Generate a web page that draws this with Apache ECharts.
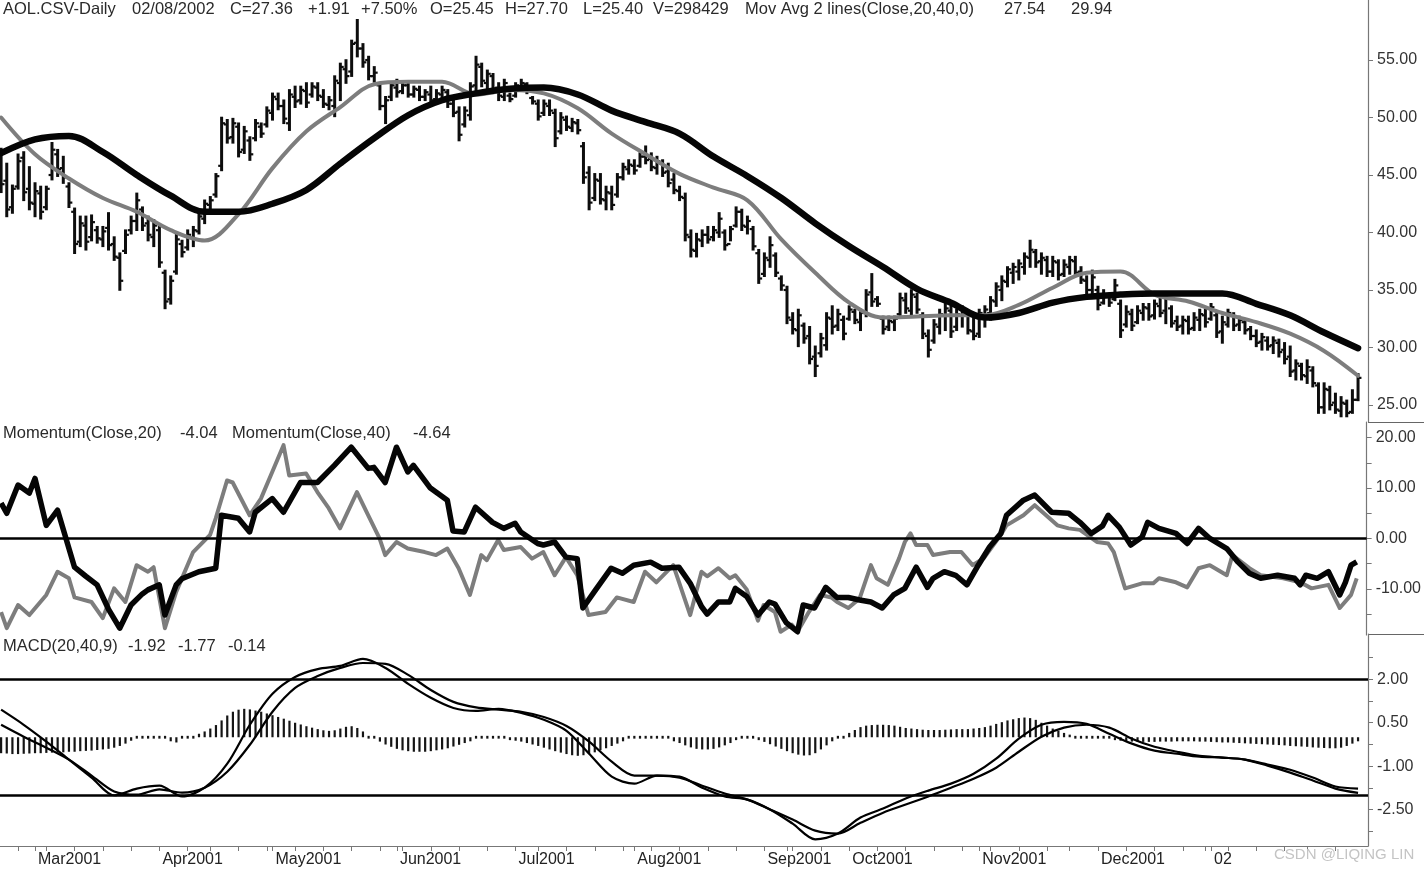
<!DOCTYPE html>
<html><head><meta charset="utf-8">
<script src="https://cdn.jsdelivr.net/npm/echarts@6/dist/echarts.min.js"></script>
<style>html,body{margin:0;padding:0;background:#fff}#c{width:1424px;height:872px}</style>
</head><body><div id="c"></div>
<script>
// ---- daily OHLC, 21 Feb 2001 .. 08 Feb 2002 (241 trading days) ----
const opens = [
46.8,44.5,42.2,44.0,46.5,43.8,42.5,43.4,42.2,45.0,
46.8,45.6,44.0,41.8,39.2,40.6,39.6,40.2,39.4,40.4,
39.0,37.8,38.4,40.2,41.0,42.0,40.8,39.6,40.2,36.5,
34.2,36.6,39.0,38.7,39.6,40.1,41.2,42.4,43.3,45.8,
49.4,48.3,49.2,47.2,48.0,48.2,49.2,49.4,50.4,51.6,
51.0,49.5,51.8,51.5,52.3,52.0,52.6,51.8,51.1,51.0,
53.0,54.2,54.0,56.5,56.0,55.0,53.6,52.8,51.0,51.8,
52.6,52.3,52.8,52.0,52.4,51.8,52.0,51.6,52.0,52.2,
51.2,50.5,49.4,50.2,52.8,54.4,53.0,53.6,52.6,51.8,
51.9,51.9,52.6,52.9,51.7,51.2,50.4,51.0,50.4,48.8,
49.8,49.1,49.5,47.5,45.2,43.0,44.5,42.8,43.4,43.3,
44.8,45.5,45.8,45.8,46.6,46.4,45.6,46.0,45.3,44.6,
43.6,43.0,39.6,38.4,39.3,39.8,39.6,40.0,40.0,39.0,
40.6,41.8,40.5,40.3,38.2,36.4,37.6,38.0,36.0,35.0,
32.4,31.5,31.9,31.0,29.2,29.5,30.2,32.5,31.9,32.4,
32.5,33.1,32.2,33.0,34.8,34.2,32.5,31.8,32.2,32.9,
34.1,33.2,34.4,32.8,31.0,30.6,31.8,32.8,33.2,31.8,
32.8,32.8,31.4,31.2,32.8,33.0,34.0,35.0,35.7,36.5,
36.6,37.0,37.8,38.3,37.5,37.6,36.6,37.4,36.4,37.0,
37.5,36.6,35.8,35.0,35.0,33.9,34.5,34.2,33.8,32.0,
32.9,32.2,33.0,33.4,32.8,33.6,33.2,33.4,32.3,31.9,
32.3,31.7,32.4,32.8,32.5,32.8,31.4,32.0,32.8,32.0,
32.2,31.6,31.0,30.5,30.6,30.2,30.4,29.8,29.2,28.0,
28.4,27.5,28.0,26.7,24.8,26.3,25.2,24.5,25.1,24.4,25.45];
const highs = [
47.3,46.0,44.1,46.8,47.0,45.7,44.3,44.0,44.0,47.8,
47.2,46.6,44.3,42.1,41.4,41.4,41.5,40.5,40.5,41.7,
39.6,38.2,40.2,41.4,43.4,42.2,41.4,41.1,40.5,36.7,
36.2,39.9,39.3,40.2,40.5,41.7,42.8,43.1,45.1,50.0,
49.8,49.9,49.5,49.2,48.3,49.8,49.5,50.9,52.1,52.1,
51.5,52.4,52.7,52.7,53.0,53.0,53.0,52.4,51.8,53.6,
54.7,55.0,56.7,58.5,56.4,55.3,54.4,53.0,51.8,53.0,
53.3,53.0,53.0,52.7,52.7,52.4,52.7,52.4,52.7,52.4,
51.5,50.9,50.9,53.0,55.3,54.7,54.1,53.8,53.0,53.3,
52.1,53.0,53.3,53.0,51.8,51.5,51.5,51.5,50.7,50.4,
50.1,49.9,49.8,47.8,45.7,45.1,45.1,44.0,44.0,45.1,
46.0,46.3,46.3,46.9,47.5,46.9,46.6,46.3,46.0,45.1,
44.0,43.4,40.2,39.9,40.2,40.5,40.5,41.7,40.2,40.5,
42.2,42.0,41.4,40.5,38.5,38.2,39.6,38.2,36.2,35.3,
33.0,33.3,32.1,31.8,30.1,31.2,33.0,33.6,33.3,32.7,
33.6,33.3,33.3,35.0,36.4,34.4,32.7,32.7,32.7,34.7,
34.7,35.0,34.7,33.0,31.5,32.4,33.3,33.8,33.6,33.3,
33.6,33.0,32.7,33.3,33.6,34.4,35.6,36.2,37.0,37.3,
37.6,38.2,39.3,38.5,38.2,37.9,37.9,37.6,37.6,37.9,
37.9,37.0,36.2,36.7,35.3,35.0,34.7,35.9,34.1,33.6,
33.3,33.6,33.8,33.8,34.1,34.4,34.7,33.6,32.7,32.7,
32.7,33.0,33.3,33.3,33.8,33.0,32.7,33.3,33.0,32.7,
32.4,31.8,31.5,31.2,30.9,30.9,30.7,30.4,30.1,28.9,
28.6,28.9,28.3,26.9,26.9,26.6,26.0,25.7,25.4,26.3,27.70];
const lows = [
43.5,41.4,41.7,43.8,42.8,42.0,41.4,41.2,42.0,44.6,
44.9,44.3,42.2,38.2,38.8,38.5,39.3,39.1,38.8,38.5,
37.6,35.0,38.2,39.9,40.2,40.2,39.3,38.8,37.0,33.4,
33.8,36.4,37.9,38.5,38.8,39.9,40.8,41.7,43.1,45.4,
47.8,47.8,46.6,46.9,46.3,48.0,48.3,49.2,49.8,50.7,
49.5,48.9,50.9,51.2,50.9,51.8,51.5,50.9,50.7,50.1,
51.5,53.0,53.6,55.3,54.4,53.3,53.1,50.7,49.5,51.5,
51.8,52.1,51.8,51.8,51.5,51.5,51.2,51.2,51.5,50.9,
50.1,48.0,49.2,49.8,52.1,52.7,52.4,52.1,51.5,51.5,
51.4,51.8,52.4,52.1,51.2,49.8,50.2,50.2,47.5,48.6,
48.9,48.8,48.6,44.3,42.0,42.8,42.5,42.0,42.0,43.1,
44.6,45.1,45.1,45.7,46.0,45.4,45.1,44.9,44.0,43.4,
42.8,39.3,37.9,37.9,38.8,39.1,39.3,39.6,38.5,39.3,
40.5,40.2,39.9,38.5,35.6,36.2,37.0,36.2,35.0,32.1,
31.2,30.1,30.4,28.6,27.5,29.2,29.8,31.2,31.5,30.7,
32.4,32.1,31.5,32.7,33.6,33.6,31.2,31.5,31.5,32.7,
33.0,32.7,33.0,30.8,29.2,30.4,31.2,31.5,30.9,31.5,
31.8,31.2,30.7,30.9,31.8,32.4,33.6,34.1,35.3,35.6,
35.9,36.4,37.0,37.0,36.4,36.2,36.2,35.9,36.2,36.4,
36.2,35.6,34.7,34.4,33.3,33.8,33.6,34.1,30.9,31.8,
31.5,32.1,32.4,32.4,32.5,32.7,32.1,31.8,31.5,31.2,
31.2,31.5,31.5,31.8,32.4,30.9,30.4,31.8,31.5,31.5,
31.2,30.7,30.1,29.8,29.8,29.5,29.2,28.6,27.5,27.2,
27.2,26.9,26.6,24.3,24.3,24.6,24.3,24.0,24.0,24.3,25.40];
const closes = [
44.2,42.0,43.8,46.2,43.5,42.6,43.6,41.8,43.8,47.2,
45.5,44.8,42.6,39.0,40.8,39.2,40.9,39.5,40.1,38.9,
37.9,35.8,39.8,41.0,42.8,40.6,39.8,40.6,37.4,34.0,
35.8,39.4,38.3,39.8,40.2,41.4,42.5,42.8,44.9,49.5,
48.2,49.5,47.0,48.8,46.8,49.5,48.6,50.6,51.8,51.0,
49.9,52.0,51.4,52.4,51.3,52.7,51.9,51.2,51.5,53.2,
54.4,53.6,56.4,56.0,54.8,53.6,53.9,51.0,51.5,52.8,
52.2,52.8,52.0,52.5,51.8,52.2,51.5,52.1,52.4,51.2,
50.4,48.5,50.6,52.7,54.6,53.2,53.8,52.5,51.9,53.0,
51.6,52.8,53.0,52.3,51.4,50.1,51.2,50.6,48.2,50.0,
49.2,49.6,48.9,44.8,42.6,44.6,42.9,43.5,42.4,44.8,
45.7,45.9,45.4,46.6,46.3,45.7,46.2,45.2,44.3,43.7,
43.1,39.8,38.5,39.4,39.8,39.4,40.2,41.2,38.9,40.3,
41.8,40.6,41.0,38.8,36.0,37.8,38.9,36.5,35.4,32.6,
31.6,32.8,30.8,29.0,28.4,30.8,32.6,31.8,32.9,31.2,
33.3,32.4,33.0,34.6,34.0,33.8,31.6,32.3,32.5,34.3,
33.4,34.6,33.3,31.2,29.8,32.0,32.9,33.4,31.4,32.9,
33.2,31.5,31.0,33.0,33.3,34.1,35.3,35.8,36.8,37.0,
37.3,37.9,38.5,37.4,37.8,36.6,37.5,36.3,37.2,37.6,
36.5,35.9,35.0,36.1,33.7,34.6,33.9,35.4,31.5,33.1,
31.9,33.2,33.5,32.7,33.8,33.0,34.3,32.1,31.8,32.4,
31.6,32.6,32.9,32.2,33.5,31.3,32.2,33.0,31.9,32.4,
31.5,31.0,30.4,30.9,30.1,30.6,29.6,29.0,27.9,28.6,
27.6,28.3,26.9,24.8,26.4,25.0,24.6,25.2,24.3,25.45,27.36];

// ---- moving averages read every 6 trading days ----
const maStep = 6;
const ma20 = [50.0,46.8,44.7,43.0,41.8,40.2,39.3,41.6,45.6,48.8,50.9,52.9,53.1,53.1,52.0,52.4,52.1,50.8,48.6,46.8,45.1,43.9,42.8,39.4,36.5,33.9,32.6,32.7,32.8,32.8,33.7,35.2,36.5,36.6,34.6,34.0,33.0,32.2,31.2,29.7,27.54];
const ma40 = [46.9,48.1,48.4,47.0,45.0,43.2,41.8,41.8,42.5,43.7,46.0,48.2,50.2,51.5,52.1,52.5,52.6,52.0,50.6,49.6,48.6,46.6,44.9,43.0,40.8,38.8,37.0,35.1,33.9,32.6,33.0,33.9,34.4,34.6,34.7,34.7,34.7,33.8,32.8,31.3,29.94];

// ---- momentum: [trading-day index, value] at the turning points ----
const mom40Pts = [[0,7.0],[1,5.0],[3,10.6],[5,9.0],[6,11.9],[8,2.6],[10,5.6],[13,-5.7],[15,-7.5],[17,-9.2],[19,-14.0],[21,-17.8],[23,-13.2],[25,-11.0],[26,-10.2],[28,-9.2],[29,-15.2],[31,-9.2],[32,-8.0],[35,-6.6],[38,-5.9],[39,4.6],[42,4.0],[44,1.3],[45,5.2],[48,7.9],[50,5.2],[53,11.1],[56,11.1],[59,14.5],[62,18.1],[65,13.9],[66,14.1],[68,11.1],[70,18.1],[72,13.2],[73,14.5],[76,10.0],[79,7.6],[80,1.5],[82,1.3],[84,6.2],[87,3.2],[89,2.0],[91,3.0],[92,1.3],[95,-1.0],[96,-1.3],[98,-0.7],[100,-3.7],[102,-4.0],[103,-13.8],[105,-10.6],[108,-5.9],[110,-6.9],[112,-5.3],[115,-4.7],[117,-5.9],[120,-5.7],[122,-8.9],[124,-13.5],[125,-15.0],[127,-12.6],[129,-12.6],[130,-9.9],[132,-11.5],[134,-15.2],[136,-12.6],[137,-13.0],[139,-16.7],[141,-18.5],[142,-13.2],[144,-13.8],[146,-9.7],[148,-11.7],[150,-11.7],[152,-12.2],[154,-12.6],[156,-13.8],[158,-11.2],[160,-9.9],[162,-5.7],[164,-9.7],[165,-7.9],[167,-6.6],[169,-7.3],[171,-9.2],[173,-5.3],[175,-1.7],[177,1.0],[178,4.6],[181,7.6],[183,8.6],[186,5.2],[189,5.0],[191,3.2],[193,1.0],[195,2.5],[196,4.6],[198,2.2],[200,-1.3],[202,0.3],[203,3.2],[205,2.0],[208,1.0],[210,-1.0],[212,2.0],[214,0.0],[217,-2.0],[219,-4.7],[221,-6.9],[223,-7.9],[226,-7.3],[229,-7.9],[230,-9.2],[231,-7.3],[233,-7.9],[235,-6.6],[237,-11.2],[238,-8.7],[239,-5.3],[240,-4.64]];
const mom20Pts = [[0,-14.6],[1,-17.8],[3,-13.2],[5,-15.2],[8,-11.2],[10,-6.6],[12,-7.9],[13,-11.7],[16,-12.6],[18,-15.8],[20,-9.9],[22,-12.6],[24,-5.3],[26,-6.6],[27,-5.7],[29,-17.8],[31,-10.6],[33,-5.3],[34,-2.7],[37,0.7],[38,4.0],[40,11.5],[41,11.1],[44,4.6],[46,7.9],[48,13.2],[50,18.5],[51,12.5],[54,12.9],[56,9.2],[58,6.0],[60,2.0],[63,9.2],[65,4.6],[67,0.0],[68,-3.3],[70,-0.7],[72,-2.0],[75,-2.7],[77,-3.3],[79,-2.0],[81,-5.9],[83,-11.2],[85,-3.3],[86,-4.3],[88,-0.3],[89,-2.3],[92,-1.7],[94,-4.0],[96,-2.7],[98,-7.3],[100,-3.7],[102,-7.3],[104,-15.2],[107,-14.6],[109,-11.7],[112,-12.6],[114,-6.6],[116,-8.7],[119,-5.3],[122,-15.2],[124,-6.6],[125,-7.5],[127,-5.9],[129,-7.9],[130,-7.3],[132,-10.1],[134,-16.3],[135,-13.2],[137,-14.6],[138,-18.5],[140,-17.1],[141,-18.5],[143,-14.6],[145,-11.2],[147,-11.7],[148,-12.6],[150,-13.8],[152,-11.9],[154,-5.3],[155,-7.9],[157,-9.2],[159,-3.9],[160,-0.7],[161,1.0],[162,-1.3],[164,-1.3],[165,-3.3],[168,-2.7],[170,-2.7],[172,-5.3],[174,-3.9],[177,0.7],[178,2.6],[181,4.6],[183,6.6],[185,4.6],[187,2.6],[189,2.0],[191,1.7],[194,-0.7],[196,-1.0],[197,-2.7],[199,-9.9],[202,-8.9],[204,-8.9],[205,-7.9],[208,-8.7],[210,-9.7],[212,-5.9],[214,-5.3],[217,-7.3],[218,-3.3],[221,-5.9],[223,-7.3],[227,-7.9],[230,-8.7],[232,-9.9],[235,-9.2],[237,-13.8],[239,-11.2],[240,-7.9]];

// ---- MACD(20,40,9): lines read every 4 trading days, histogram daily ----
const macdStep = 4;
const macdLine = [0.95,0.43,-0.15,-0.77,-1.39,-2.0,-1.77,-1.67,-2.04,-1.74,-0.91,0.43,1.5,2.08,2.35,2.46,2.7,2.39,1.84,1.36,1.01,0.91,0.98,0.84,0.6,0.22,-0.57,-1.36,-1.6,-1.32,-1.36,-1.74,-2.04,-2.15,-2.49,-2.98,-3.52,-3.32,-2.77,-2.46,-2.11,-1.84,-1.6,-1.26,-0.74,-0.05,0.43,0.53,0.46,0.12,-0.22,-0.46,-0.57,-0.67,-0.7,-0.77,-0.98,-1.22,-1.49,-1.77,-1.92];
const signalLine = [0.43,0.02,-0.36,-0.77,-1.32,-1.87,-1.98,-1.8,-1.91,-1.74,-1.19,-0.26,0.88,1.7,2.11,2.39,2.56,2.53,2.15,1.63,1.22,1.03,0.95,0.88,0.7,0.39,-0.15,-0.84,-1.32,-1.32,-1.39,-1.67,-1.94,-2.15,-2.49,-2.84,-3.22,-3.32,-2.95,-2.6,-2.32,-2.04,-1.74,-1.43,-1.05,-0.5,0.02,0.33,0.43,0.33,-0.05,-0.33,-0.5,-0.64,-0.7,-0.77,-0.94,-1.12,-1.39,-1.7,-1.77];
const macdHist = [
-0.55,-0.56,-0.58,-0.58,-0.57,-0.56,-0.55,-0.55,-0.54,-0.53,
-0.52,-0.52,-0.5,-0.5,-0.48,-0.47,-0.46,-0.44,-0.42,-0.4,
-0.36,-0.3,-0.22,-0.12,-0.05,0.02,0.04,0.04,0.03,-0.05,
-0.14,-0.18,-0.08,0.02,0.06,0.12,0.2,0.3,0.42,0.58,
0.75,0.88,0.95,0.98,0.96,0.92,0.88,0.82,0.76,0.7,
0.64,0.57,0.5,0.44,0.38,0.33,0.28,0.24,0.22,0.24,
0.3,0.36,0.38,0.32,0.2,0.08,-0.04,-0.15,-0.25,-0.33,
-0.4,-0.45,-0.48,-0.5,-0.5,-0.5,-0.48,-0.45,-0.42,-0.38,
-0.32,-0.26,-0.2,-0.14,-0.08,-0.05,-0.04,-0.05,-0.07,-0.08,
-0.1,-0.12,-0.15,-0.2,-0.25,-0.3,-0.36,-0.42,-0.48,-0.53,
-0.58,-0.62,-0.64,-0.62,-0.58,-0.52,-0.45,-0.38,-0.3,-0.22,
-0.14,-0.07,-0.02,0.02,0.04,0.04,0.03,0.0,-0.06,-0.14,
-0.2,-0.28,-0.35,-0.4,-0.42,-0.42,-0.4,-0.35,-0.28,-0.2,
-0.1,-0.04,-0.02,-0.05,-0.1,-0.16,-0.24,-0.32,-0.4,-0.48,
-0.55,-0.6,-0.63,-0.62,-0.55,-0.42,-0.28,-0.14,-0.03,0.05,
0.15,0.25,0.35,0.4,0.42,0.43,0.43,0.42,0.4,0.36,
0.32,0.3,0.28,0.26,0.25,0.25,0.25,0.26,0.27,0.28,
0.28,0.28,0.3,0.32,0.35,0.4,0.46,0.52,0.58,0.62,
0.66,0.68,0.66,0.6,0.5,0.4,0.3,0.22,0.15,0.09,
0.05,0.02,0.0,-0.02,-0.04,-0.06,-0.08,-0.1,-0.12,-0.13,
-0.15,-0.15,-0.16,-0.16,-0.16,-0.15,-0.15,-0.15,-0.14,-0.14,
-0.14,-0.14,-0.15,-0.15,-0.16,-0.17,-0.18,-0.18,-0.19,-0.2,
-0.21,-0.22,-0.23,-0.24,-0.25,-0.26,-0.27,-0.28,-0.3,-0.31,
-0.32,-0.33,-0.35,-0.36,-0.37,-0.38,-0.38,-0.36,-0.3,-0.22,-0.14];

// ---- axis ticks / labels ----
const monthStarts = [6,28,48,70,91,112,135,150,173,194,214];
const monthLabels = ['Mar2001','Apr2001','May2001','Jun2001','Jul2001','Aug2001','Sep2001','Oct2001','Nov2001','Dec2001','02'];
const weekStarts = [3,8,13,18,23,28,33,37,42,47,52,57,62,67,71,76,81,86,91,95,100,105,110,115,120,125,130,135,139,140,145,150,155,160,165,170,175,180,185,189,194,199,204,209,213,217,222,227,231,236];
const priceLabels = [25,30,35,40,45,50,55];
const momLabels = [-10,0,10,20];
const momTicks = [-15,-10,-5,0,5,10,15,20];
const macdLabels = [2,0.5,-1,-2.5];
const macdTicks = [2.75,2,1.25,0.5,-0.25,-1,-1.75,-2.5,-3.25];

const headerTop = [['AOL.CSV-Daily',3],['02/08/2002',132],['C=27.36',230],['+1.91',308],['+7.50%',361],['O=25.45',430],['H=27.70',505],['L=25.40',583],['V=298429',653],['Mov Avg 2 lines(Close,20,40,0)',745],['27.54',1004],['29.94',1071]];
const headerMom = [['Momentum(Close,20)',3],['-4.04',180],['Momentum(Close,40)',232],['-4.64',413]];
const headerMacd = [['MACD(20,40,9)',3],['-1.92',128],['-1.77',178],['-0.14',228]];

// ---------------------------------------------------------------
const FONT = '"Liberation Sans", Arial, sans-serif';
const ohlcData = opens.map((o, i) => [i, o, highs[i], lows[i], closes[i]]);
const histData = macdHist.map((v, i) => [i, v]);
const ma20Data = ma20.map((v, k) => [k * maStep, v]);
const ma40Data = ma40.map((v, k) => [k * maStep, v]);
const macdData = macdLine.map((v, k) => [k * macdStep, v]);
const sigData = signalLine.map((v, k) => [k * macdStep, v]);
const tickVals = Array.from(new Set(weekStarts.concat(monthStarts))).sort((a, b) => a - b);

function renderOHLC(params, api) {
  const i = api.value(0);
  const pO = api.coord([i, api.value(1)]);
  const pH = api.coord([i, api.value(2)]);
  const pL = api.coord([i, api.value(3)]);
  const pC = api.coord([i, api.value(4)]);
  const x = pH[0];
  return { type: 'group', children: [
    { type: 'line', shape: { x1: x, y1: pH[1] - 0.8, x2: x, y2: pL[1] + 0.8 }, style: { stroke: '#0d0d0d', lineWidth: 3 } },
    { type: 'line', shape: { x1: x - 3.4, y1: pO[1], x2: x, y2: pO[1] }, style: { stroke: '#0d0d0d', lineWidth: 2.2 } },
    { type: 'line', shape: { x1: x, y1: pC[1], x2: x + 3.4, y2: pC[1] }, style: { stroke: '#0d0d0d', lineWidth: 2.2 } }
  ]};
}
function renderHist(params, api) {
  const i = api.value(0), v = api.value(1);
  const p0 = api.coord([i, 0]), p1 = api.coord([i, v]);
  let y0 = p0[1], y1 = p1[1];
  if (Math.abs(y1 - y0) < 2.5) { y0 = p0[1] - 1.4; y1 = p0[1] + 1.4; }
  return { type: 'line', shape: { x1: p0[0], y1: y0, x2: p0[0], y2: y1 }, style: { stroke: '#151515', lineWidth: 2.2 } };
}

const xBase = { type: 'value', min: -0.195, max: 241.76, splitLine: { show: false } };
const yBase = (gi, min, max, labels, ticks) => ({
  type: 'value', gridIndex: gi, position: 'right', min: min, max: max,
  splitLine: { show: false },
  axisLine: { show: true, onZero: false, lineStyle: { color: '#777', width: 1.2 } },
  axisTick: { show: true, inside: false, length: 5, customValues: ticks, lineStyle: { color: '#777' } },
  axisLabel: { show: true, customValues: labels, margin: 9, color: '#333', fontSize: 16, fontFamily: FONT,
    formatter: v => Number(v).toFixed(2) }
});

const texts = [];
function addRow(list, top) {
  list.forEach(([t, x]) => texts.push({ type: 'text', left: x, top: top,
    style: { text: t, font: '16.5px ' + FONT, fill: '#2a2a2a' }, z: 100 }));
}
addRow(headerTop, 1);
addRow(headerMom, 425);
addRow(headerMacd, 638);
texts.push({ type: 'line', shape: { x1: 1368, y1: 422.5, x2: 1424, y2: 422.5 }, style: { stroke: '#666', lineWidth: 1.2 } });
texts.push({ type: 'line', shape: { x1: 1368, y1: 634.5, x2: 1424, y2: 634.5 }, style: { stroke: '#666', lineWidth: 1.2 } });
texts.push({ type: 'text', left: 1274, top: 847, style: { text: 'CSDN @LIQING LIN', font: '15px ' + FONT, fill: '#c4c4c4' }, z: 100 });

const chart = echarts.init(document.getElementById('c'), null, { renderer: 'canvas' });
chart.setOption({
  animation: false,
  backgroundColor: '#ffffff',
  textStyle: { fontFamily: FONT },
  grid: [
    { left: 0, right: 56, top: 0, height: 422 },
    { left: 0, right: 56, top: 422, height: 213 },
    { left: 0, right: 56, top: 634, height: 212 }
  ],
  xAxis: [
    Object.assign({}, xBase, { gridIndex: 0, show: false }),
    Object.assign({}, xBase, { gridIndex: 1, show: false }),
    Object.assign({}, xBase, { gridIndex: 2, show: true,
      axisLine: { show: true, onZero: false, lineStyle: { color: '#777', width: 1.2 } },
      axisTick: { show: true, inside: false, length: 5, customValues: tickVals, lineStyle: { color: '#777' } },
      axisLabel: { show: true, customValues: monthStarts, align: 'left', margin: 6, padding: [0, 0, 0, 3],
        color: '#222', fontSize: 16, fontFamily: FONT,
        formatter: v => { const k = monthStarts.indexOf(Math.round(v)); return k >= 0 ? monthLabels[k] : ''; } } })
  ],
  yAxis: [
    yBase(0, 23.52, 60.22, priceLabels, priceLabels),
    yBase(1, -19.15, 23.1, momLabels, momTicks),
    yBase(2, -3.75, 3.56, macdLabels, macdTicks)
  ],
  graphic: texts,
  series: [
    { type: 'custom', name: 'OHLC', xAxisIndex: 0, yAxisIndex: 0, renderItem: renderOHLC,
      encode: { x: 0, y: [1, 2, 3, 4] }, data: ohlcData, z: 2, clip: true },
    { type: 'line', name: 'MA20', xAxisIndex: 0, yAxisIndex: 0, data: ma20Data, smooth: 0.35,
      showSymbol: false, lineStyle: { color: '#7d7d7d', width: 4, cap: 'round', join: 'round' }, z: 3 },
    { type: 'line', name: 'MA40', xAxisIndex: 0, yAxisIndex: 0, data: ma40Data, smooth: 0.35,
      showSymbol: false, lineStyle: { color: '#050505', width: 6.5, cap: 'round', join: 'round' }, z: 4 },
    { type: 'line', name: 'Mom20', xAxisIndex: 1, yAxisIndex: 1, data: mom20Pts,
      showSymbol: false, lineStyle: { color: '#7d7d7d', width: 4, join: 'round' }, z: 3,
      markLine: { silent: true, symbol: 'none', label: { show: false },
        lineStyle: { color: '#000', width: 2.5, type: 'solid' }, data: [{ yAxis: 0 }] } },
    { type: 'line', name: 'Mom40', xAxisIndex: 1, yAxisIndex: 1, data: mom40Pts,
      showSymbol: false, lineStyle: { color: '#050505', width: 5.5, join: 'round' }, z: 4 },
    { type: 'custom', name: 'Hist', xAxisIndex: 2, yAxisIndex: 2, renderItem: renderHist,
      encode: { x: 0, y: 1 }, data: histData, z: 2 },
    { type: 'line', name: 'MACD', xAxisIndex: 2, yAxisIndex: 2, data: macdData, smooth: 0.3,
      showSymbol: false, lineStyle: { color: '#000', width: 2.2 }, z: 4,
      markLine: { silent: true, symbol: 'none', label: { show: false },
        lineStyle: { color: '#000', width: 2.5, type: 'solid' }, data: [{ yAxis: 2 }, { yAxis: -2 }] } },
    { type: 'line', name: 'Signal', xAxisIndex: 2, yAxisIndex: 2, data: sigData, smooth: 0.3,
      showSymbol: false, lineStyle: { color: '#000', width: 2.2 }, z: 4 }
  ]
});
</script>
</body></html>
